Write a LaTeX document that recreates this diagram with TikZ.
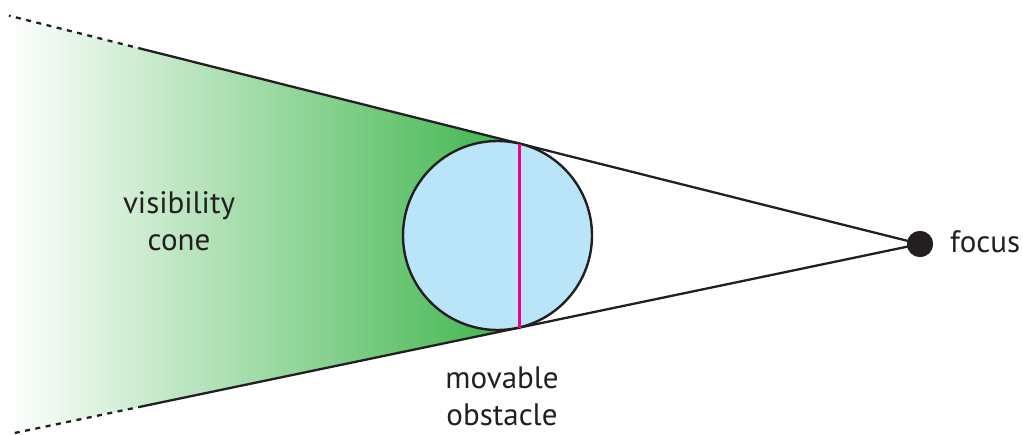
\documentclass[tikz,border=0pt]{standalone}
\usepackage{fontspec}
\setmainfont{PT Sans}
\usepackage{tikz}
\usetikzlibrary{calc}
\definecolor{visgreen}{HTML}{3CB54A}
\definecolor{obsblue}{HTML}{BAE4F8}
\definecolor{chordpink}{HTML}{EC008C}
\definecolor{inkdark}{HTML}{231F20}

\begin{document}
\begin{tikzpicture}[
    x=1pt,y=-1pt,
    edge/.style  = {inkdark,line width=2.3pt},
    far/.style   = {inkdark,line width=2.3pt,dash pattern=on 5pt off 5.5pt},
    obst/.style  = {circle,draw=inkdark,fill=obsblue,line width=2.4pt,
                    inner sep=0pt,minimum size=189pt},
    dot/.style   = {circle,fill=inkdark,inner sep=0pt,minimum size=26pt},
    lab/.style   = {font=\fontsize{31}{37}\selectfont,text=inkdark,align=center,
                    inner sep=0pt},
  ]
  \useasboundingbox (0,0) rectangle (1023,434);

  \node[dot]  (focus) at (920,244) {};
  \coordinate (ut) at (519.5,143.6);   % tangent points
  \coordinate (lt) at (519.5,327.6);
  \coordinate (um) at ($(focus)!1.94!(ut)$);
  \coordinate (ue) at ($(focus)!2.275!(ut)$);
  \coordinate (lm) at ($(focus)!1.94!(lt)$);
  \coordinate (le) at ($(focus)!2.27!(lt)$);

  % cone
  \shade[left color=white,right color=visgreen] (ue) -- (ut) -- (lt) -- (le) -- cycle;
  \draw[edge] (focus.center) -- (um);
  \draw[edge] (focus.center) -- (lm);
  \draw[far] (um) -- (ue);
  \draw[far] (lm) -- (le);

  \node[obst] (obst) at (497.5,235.5) {};
  \draw[chordpink,line width=2.3pt] (ut) -- (lt);
  \node[dot] at (focus) {};

  \node[lab,anchor=base] (vis)  at (179,250) {visibility\\cone};
  \node[lab,anchor=base] (mov)  at (502,425) {movable\\obstacle};
  \node[lab,anchor=base west] (foc) at (950,252) {focus};
\end{tikzpicture}
\end{document}
